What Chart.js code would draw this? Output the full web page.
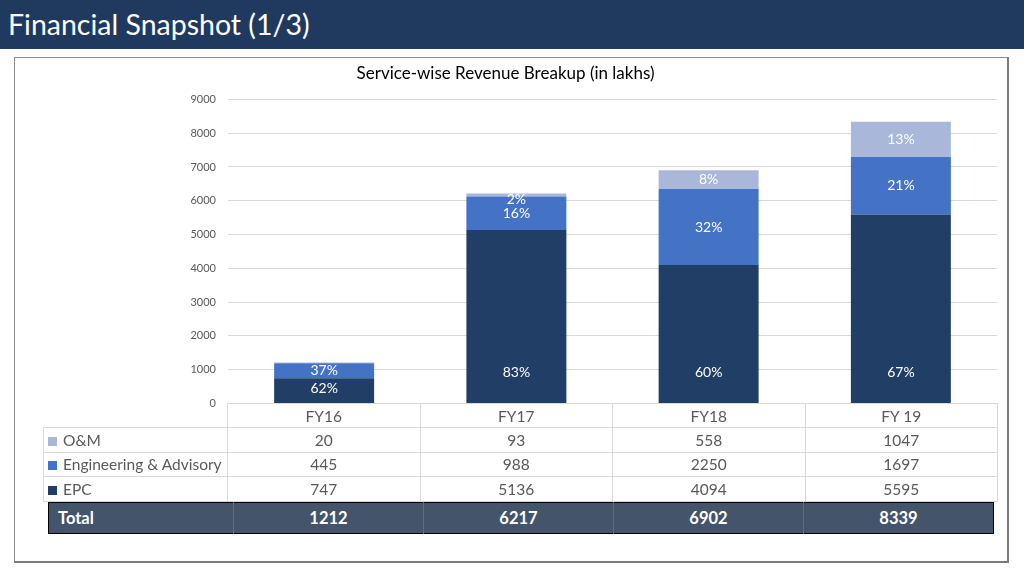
<!DOCTYPE html>
<html>
<head>
<meta charset="utf-8">
<script src="https://cdn.jsdelivr.net/npm/chart.js@4.4.0/dist/chart.umd.min.js"></script>
<style>
  body { margin: 0; background: #fff; font-family: Lato, "Open Sans", sans-serif; }
  #page { position: relative; width: 1024px; height: 576px; overflow: hidden; background: #fff; }
  #header { position: absolute; left: 0; top: 0; width: 1024px; height: 49px; background: #203a5f;
            color: #fff; font-size: 28.5px; line-height: 48px; padding-left: 8px; box-sizing: border-box; }
  #box { position: absolute; left: 14px; top: 57px; width: 995px; height: 506px;
         border: 1px solid #8c8c8c; border-right: 2px solid #7a7a7a; border-bottom: 2px solid #7a7a7a; box-sizing: border-box; }
  #chart { position: absolute; left: 14px; top: 57px; }
  #dataTable { position: absolute; left: 43px; top: 403px; border-collapse: collapse; table-layout: fixed;
               color: #595959; font-size: 15.5px; }
  #dataTable td { border: 1px solid #d9d9d9; height: 23.4px; padding: 0; text-align: center; white-space: nowrap; }
  #dataTable td.name { text-align: left; padding-left: 4px; }
  #dataTable td.blank { border: none; }
  .swatch { display: inline-block; width: 9px; height: 9px; margin-right: 6px; vertical-align: 0px; }
  #totalTable { position: absolute; left: 48px; top: 502px; width: 945px; height: 32px; border-collapse: collapse;
                table-layout: fixed; background: #44546a; color: #fff; font-weight: bold; font-size: 16.5px;
                border: 1px solid #000; }
  #totalTable td { text-align: center; border-left: 1px solid #5d6c80; padding: 0; }
  #totalTable td:first-child { text-align: left; padding-left: 9px; border-left: none; }
</style>
</head>
<body>
<div id="page">
  <div id="header">Financial Snapshot (1/3)</div>
  <div id="box"></div>
  <canvas id="chart" width="994" height="365"></canvas>
  <table id="dataTable"></table>
  <table id="totalTable"></table>
</div>
<script>
// categories / valeurs
const categories = ['FY16', 'FY17', 'FY18', 'FY 19'];
const epcValues = [747, 5136, 4094, 5595];
const engValues = [445, 988, 2250, 1697];
const omValues = [20, 93, 558, 1047];
const totals = [1212, 6217, 6902, 8339];

// pourcentages affichés dans les barres
const epcLabels = ['62%', '83%', '60%', '67%'];
const engLabels = ['37%', '16%', '32%', '21%'];
const omLabels = ['', '2%', '8%', '13%'];

const seriesNames = ['O&M', 'Engineering & Advisory', 'EPC'];
const colors = { epc: '#213f66', eng: '#4472c4', om: '#a9b7da' };

// labels blancs dans les segments
const segmentLabels = {
  id: 'segmentLabels',
  afterDatasetsDraw(chart) {
    const ctx = chart.ctx;
    ctx.save();
    ctx.font = '14px Lato';
    ctx.fillStyle = '#ffffff';
    ctx.textAlign = 'center';
    ctx.textBaseline = 'middle';
    chart.data.datasets.forEach(function(ds, i) {
      const meta = chart.getDatasetMeta(i);
      meta.data.forEach(function(bar, j) {
        const txt = ds.pctLabels[j];
        if (!txt) return;
        let y = (bar.y + bar.base) / 2;
        if (i === 0) y = Math.max(bar.y + 10, bar.base - 30);
        // O&M trop petit : le label descend sous le segment
        if (i === 2 && bar.base - bar.y < 10) y = bar.base + 3;
        ctx.fillText(txt, bar.x, y);
      });
    });
    ctx.restore();
  }
};

var ctx = document.getElementById('chart').getContext('2d');
var myChart = new Chart(ctx, {
  type: 'bar',
  data: {
    labels: categories,
    datasets: [
      { label: 'EPC', data: epcValues, backgroundColor: colors.epc, pctLabels: epcLabels },
      { label: 'Engineering & Advisory', data: engValues, backgroundColor: colors.eng, pctLabels: engLabels },
      { label: 'O&M', data: omValues, backgroundColor: colors.om, pctLabels: omLabels }
    ]
  },
  options: {
    responsive: false,
    animation: false,
    categoryPercentage: 1,
    barPercentage: 0.52,
    layout: { padding: { left: 0, right: 11, top: 0, bottom: 0 } },
    plugins: {
      legend: { display: false },
      tooltip: { enabled: false },
      title: {
        display: true,
        text: 'Service-wise Revenue Breakup (in lakhs)',
        color: '#000000',
        font: { family: 'Lato', size: 17, weight: 'normal' },
        padding: { top: 6, bottom: 16 }
      }
    },
    scales: {
      x: { stacked: true, display: false },
      y: {
        stacked: true,
        min: 0,
        max: 9000,
        ticks: {
          stepSize: 1000, color: '#595959', font: { family: 'Lato', size: 11 }, padding: 12,
          callback: function(v) { return String(v); }
        },
        grid: { color: '#d9d9d9', drawTicks: false },
        border: { display: false },
        afterFit: function(scale) { scale.width = 214; }
      }
    }
  },
  plugins: [segmentLabels]
});

// tableau de données sous le graphique
function buildTables() {
  const table = document.getElementById('dataTable');
  let html = '<colgroup><col style="width:184px">';
  categories.forEach(function() { html += '<col style="width:192.5px">'; });
  html += '</colgroup><tr><td class="blank"></td>';
  categories.forEach(function(c) { html += '<td>' + c + '</td>'; });
  html += '</tr>';
  const rows = [
    [seriesNames[0], colors.om, omValues],
    [seriesNames[1], colors.eng, engValues],
    [seriesNames[2], colors.epc, epcValues]
  ];
  rows.forEach(function(r) {
    html += '<tr><td class="name"><span class="swatch" style="background:' + r[1] + '"></span>' +
      r[0].replace('&', '&amp;') + '</td>';
    r[2].forEach(function(v) { html += '<td>' + v + '</td>'; });
    html += '</tr>';
  });
  table.innerHTML = html;

  const total = document.getElementById('totalTable');
  let t = '<colgroup><col style="width:185px">';
  totals.forEach(function() { t += '<col style="width:190px">'; });
  t += '</colgroup><tr><td>Total</td>';
  totals.forEach(function(v) { t += '<td>' + v + '</td>'; });
  t += '</tr>';
  total.innerHTML = t;
}
buildTables();
</script>
</body>
</html>
